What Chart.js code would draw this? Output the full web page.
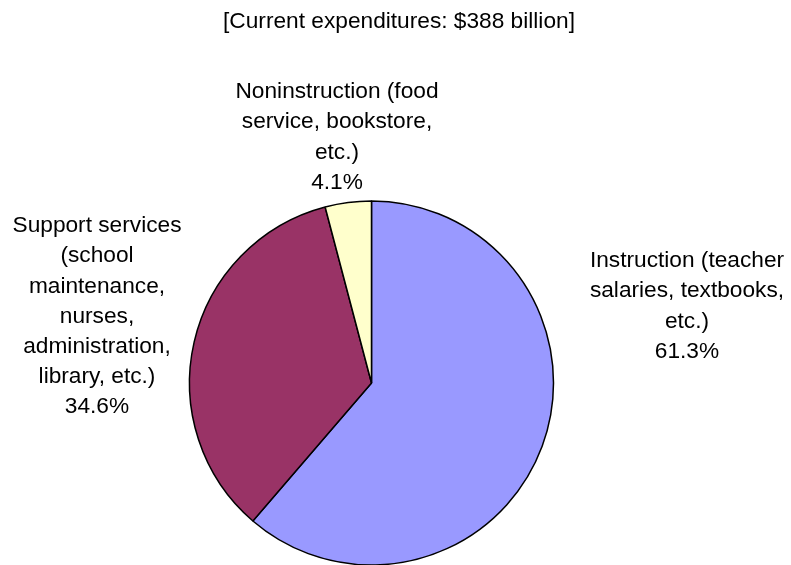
<!DOCTYPE html>
<html lang="en">
<head>
    <meta charset="UTF-8">
    <title>Current expenditures</title>
    <script src="https://cdn.jsdelivr.net/npm/chart.js"></script>
    <style>
        body { margin: 0; background: #fff; }
    </style>
</head>
<body>

    <canvas id="pieChart" width="791" height="565"></canvas>

    <script>
        // data
        const categories = ['Instruction', 'Support services', 'Noninstruction'];
        const shares = [61.3, 34.6, 4.1];
        const labelLines = [
            ['Instruction (teacher', 'salaries, textbooks,', 'etc.)'],
            ['Support services', '(school', 'maintenance,', 'nurses,', 'administration,', 'library, etc.)'],
            ['Noninstruction (food', 'service, bookstore,', 'etc.)']
        ];
        const titleText = '[Current expenditures: $388 billion]';

        const sliceColors = ['#9999FF', '#993366', '#FFFFCC'];

        // labels drawn by hand, Excel style (text block + percentage)
        const labelPlugin = {
            id: 'sliceLabels',
            afterDraw(chart, args, opts) {
                const ctx = chart.ctx;
                ctx.save();
                ctx.font = opts.font;
                ctx.fillStyle = '#000';
                ctx.textAlign = 'center';
                ctx.textBaseline = 'middle';
                opts.anchors.forEach((a, i) => {
                    const lines = labelLines[i].concat([shares[i].toFixed(1) + '%']);
                    lines.forEach((t, j) => {
                        ctx.fillText(t, a.x, a.y + j * opts.lineHeight);
                    });
                });
                // title
                ctx.fillText(titleText, opts.titleX, opts.titleY);
                ctx.restore();
            }
        };

        const ctx = document.getElementById('pieChart').getContext('2d');
        const pieChart = new Chart(ctx, {
            type: 'pie',
            data: {
                labels: categories,
                datasets: [{
                    data: shares,
                    backgroundColor: sliceColors,
                    borderColor: '#000',
                    borderWidth: 1.5
                }]
            },
            options: {
                responsive: false,
                animation: false,
                radius: 182,
                layout: {
                    padding: { top: 201, left: 189, right: 237, bottom: 0 }
                },
                plugins: {
                    legend: { display: false },
                    tooltip: { enabled: false },
                    sliceLabels: {
                        font: '22.7px "Liberation Sans", Arial, sans-serif',
                        lineHeight: 30.2,
                        titleX: 399,
                        titleY: 22,
                        anchors: [
                            { x: 687, y: 261 },
                            { x: 97, y: 226 },
                            { x: 337, y: 92 }
                        ]
                    }
                }
            },
            plugins: [labelPlugin]
        });
    </script>

</body>
</html>
